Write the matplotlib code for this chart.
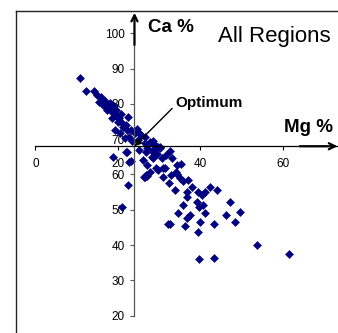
import matplotlib
matplotlib.use('Agg')
from matplotlib import pyplot as plt
from matplotlib.lines import Line2D

plt.rcParams['font.family'] = ['Liberation Sans', 'DejaVu Sans']

# Mg % / Ca %
mg = [10.8, 12.2, 14.2, 15.0, 16.0, 15.4, 16.4, 17.1, 17.9, 18.7, 17.4, 18.5, 19.3, 19.7,
      20.3, 22.4, 21.3, 19.3, 22.1, 23.1, 24.1, 25.1, 25.7, 20.5, 22.7, 21.7, 23.3,
      16.8, 18.0, 19.0, 19.5, 20.8, 20.0, 21.0, 22.0, 24.5, 18.5,
      27.8, 29.0, 27.1, 28.4, 30.2, 26.8, 29.5, 28.2, 22.1, 18.9, 22.7, 26.8, 27.8,
      29.8, 31.0, 22.4, 21.0, 26.3, 27.1, 32.2,
      26.5, 28.6, 30.2, 32.6, 31.6, 28.6, 30.6, 33.0, 27.0, 29.2, 31.4, 34.2, 35.4,
      26.5, 31.0, 32.8, 34.2, 35.0, 32.4, 35.7, 37.0, 37.9, 33.8, 36.7, 39.5, 41.1,
      40.3, 42.3, 43.9, 36.7, 35.8, 39.1, 39.7, 40.7, 47.2, 49.6, 46.2, 48.4, 34.6,
      37.5, 41.1, 36.7, 40.0, 43.3, 32.6, 36.2, 39.5, 34.1, 53.8, 61.5, 39.6, 43.4,
      21.9, 23.1, 26.5, 28.6, 29.8, 25.0, 24.8, 26.0]
ca = [87.2, 83.7, 83.7, 82.5, 81.9, 80.5, 79.7, 79.2, 78.9, 78.8, 78.3, 77.8, 77.3, 76.4,
      75.9, 76.4, 73.5, 72.6, 72.6, 72.6, 71.7, 71.7, 71.2, 71.7, 70.7, 70.4, 69.5,
      80.8, 80.2, 79.5, 78.2, 77.0, 74.8, 74.5, 74.0, 73.0, 76.0,
      69.1, 68.4, 67.6, 66.9, 67.9, 66.3, 65.7, 65.0, 66.3, 65.0, 63.5, 59.9, 60.6,
      61.3, 61.8, 57.1, 50.9, 59.2, 59.7, 46.0,
      70.7, 69.5, 67.4, 66.7, 65.5, 64.6, 64.6, 64.6, 62.7, 61.9, 61.9, 62.7, 62.9,
      59.4, 59.4, 59.9, 60.1, 58.9, 57.5, 58.2, 58.4, 56.5, 55.6, 55.1, 55.1, 55.1,
      54.2, 56.5, 55.6, 53.7, 51.4, 52.3, 50.9, 51.4, 52.1, 49.5, 48.5, 46.6, 49.0,
      48.5, 49.0, 47.6, 46.6, 45.9, 45.9, 45.4, 43.8, 60.8, 39.9, 37.4, 36.1, 36.3,
      66.5, 63.8, 68.8, 66.5, 67.9, 67.0, 69.8, 64.0]

x_ticks = [0, 20, 40, 60]
y_ticks = [20, 30, 40, 50, 60, 70, 80, 90, 100]
optimum = (24, 68)

fig = plt.figure(figsize=(3.38, 3.33), dpi=100)
ax = fig.add_axes([0.105, 0.052, 0.8908, 0.9117])
ax.set_xlim(0, 73)
ax.set_ylim(20, 106)

ax.plot(mg, ca, linestyle='none', marker='D', markersize=3.9, color='#000080',
        markeredgewidth=0.4, zorder=2)

for s in ['top', 'right']:
    ax.spines[s].set_visible(False)
ax.spines['left'].set_position(('data', optimum[0]))
ax.spines['left'].set_bounds(20, 100)
ax.spines['left'].set_color('#555555')
ax.spines['left'].set_linewidth(0.9)
ax.spines['bottom'].set_position(('data', optimum[1]))
ax.spines['bottom'].set_bounds(0, 73)
ax.spines['bottom'].set_color('black')
ax.spines['bottom'].set_linewidth(0.9)

ax.set_xticks(x_ticks)
ax.set_yticks(y_ticks)
ax.tick_params(axis='x', direction='out', length=2.8, width=0.8, pad=6, labelsize=8.5)
ax.tick_params(axis='y', direction='out', length=3.2, width=0.8, pad=4, labelsize=8.5,
               color='#555555')

# axis arrows
ax.annotate('', xy=(optimum[0], 105.8), xytext=(optimum[0], 96.7),
            arrowprops=dict(arrowstyle='->', lw=1.6, color='black', mutation_scale=11,
                            shrinkA=0, shrinkB=0), annotation_clip=False)
ax.annotate('', xy=(73.2, optimum[1]), xytext=(64.1, optimum[1]),
            arrowprops=dict(arrowstyle='->', lw=1.6, color='black', mutation_scale=11,
                            shrinkA=0, shrinkB=0), annotation_clip=False)

ax.text(27.3, 101.6, 'Ca %', fontsize=13.5, fontweight='bold', va='center', ha='left')
ax.text(60.2, 73.2, 'Mg %', fontsize=13.5, fontweight='bold', va='center', ha='left')
ax.text(44.2, 99.1, 'All Regions', fontsize=16, va='center', ha='left')
ax.annotate('Optimum', xy=optimum, xytext=(33.8, 80.3), fontsize=11, fontweight='bold',
            va='center', ha='left', zorder=4,
            arrowprops=dict(arrowstyle='-|>', lw=1, color='black', mutation_scale=10,
                            shrinkA=0, shrinkB=0, relpos=(0, 0.3)))

# chart area border (only left and top edges visible)
fig.add_artist(Line2D([0.046, 0.046], [0, 0.9655], color='#222222', lw=1))
fig.add_artist(Line2D([0.046, 1], [0.9655, 0.9655], color='#222222', lw=1))

fig.savefig('out.png', dpi=100)
